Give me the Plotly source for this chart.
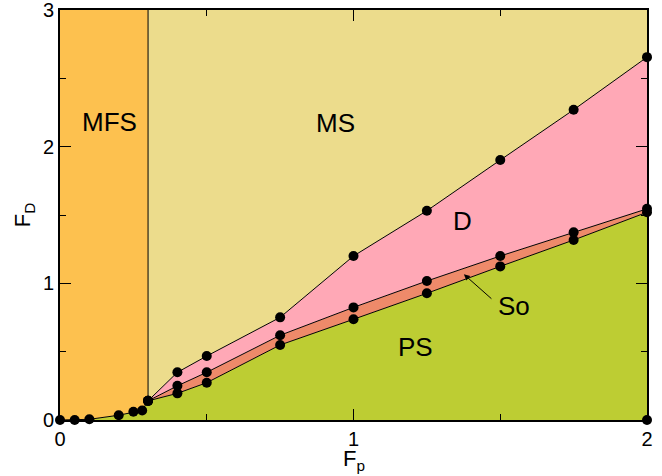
import plotly.graph_objects as go

# phase boundaries
low_x = [0, 0.05, 0.1, 0.2, 0.25, 0.28, 0.3]
low_y = [0, 0, 0.005, 0.035, 0.06, 0.07, 0.14]

fp = [0.3, 0.4, 0.5, 0.75, 1.0, 1.25, 1.5, 1.75, 2.0]
ps_top = [0.14, 0.195, 0.273, 0.549, 0.737, 0.927, 1.124, 1.317, 1.52]
so_top = [0.14, 0.25, 0.349, 0.62, 0.824, 1.017, 1.2, 1.373, 1.545]
d_top = [0.14, 0.349, 0.468, 0.751, 1.2, 1.531, 1.902, 2.27, 2.655]

x_max, y_max = 2.0, 3.0
mfs_edge = 0.3

labels = ["MFS", "MS", "D", "PS", "So"]
label_x = [0.17, 0.937, 1.373, 1.21, 1.547]
label_y = [2.18, 2.17, 1.456, 0.534, 0.834]

COLORS = {
    "MFS": "#FDC14F",
    "MS": "#ECDC8C",
    "D": "#FFA8B6",
    "So": "#EE8A6A",
    "PS": "#BDCD33",
}

fig = go.Figure()

# filled regions
fig.add_trace(go.Scatter(
    x=low_x + fp + [x_max, 0],
    y=low_y + ps_top + [0, 0],
    fill="toself", fillcolor=COLORS["PS"], mode="none",
))
fig.add_trace(go.Scatter(
    x=fp + fp[::-1],
    y=ps_top + so_top[::-1],
    fill="toself", fillcolor=COLORS["So"], mode="none",
))
fig.add_trace(go.Scatter(
    x=fp + fp[::-1],
    y=so_top + d_top[::-1],
    fill="toself", fillcolor=COLORS["D"], mode="none",
))
fig.add_trace(go.Scatter(
    x=fp + [x_max, mfs_edge],
    y=d_top + [y_max, y_max],
    fill="toself", fillcolor=COLORS["MS"], mode="none",
))
fig.add_trace(go.Scatter(
    x=low_x + [mfs_edge, 0],
    y=low_y + [y_max, y_max],
    fill="toself", fillcolor=COLORS["MFS"], mode="none",
))

# boundary lines with data points
line_style = dict(color="black", width=1)
marker_style = dict(color="black", size=10)
fig.add_trace(go.Scatter(x=[mfs_edge, mfs_edge], y=[low_y[-1], y_max],
                         mode="lines", line=line_style))
for ys in [d_top, so_top]:
    fig.add_trace(go.Scatter(x=fp, y=ys, mode="lines+markers",
                             line=line_style, marker=marker_style,
                             cliponaxis=False))
fig.add_trace(go.Scatter(x=low_x + fp[1:], y=low_y + ps_top[1:],
                         mode="lines+markers", line=line_style,
                         marker=marker_style, cliponaxis=False))
fig.add_trace(go.Scatter(x=[x_max], y=[0], mode="markers",
                         marker=marker_style, cliponaxis=False))

# region labels
for name, lx, ly in zip(labels, label_x, label_y):
    fig.add_annotation(x=lx, y=ly, text=name, showarrow=False,
                       font=dict(size=26, color="black"))

# arrow pointing into the thin So band
fig.add_annotation(x=1.376, y=1.066, ax=1.475, ay=0.878,
                   xref="x", yref="y", axref="x", ayref="y",
                   text="", showarrow=True, arrowhead=2, arrowsize=1.2,
                   arrowwidth=1, arrowcolor="black")

# x axis title, placed a little tighter than the default title
fig.add_annotation(x=0.5, y=0, xref="paper", yref="paper",
                   yanchor="top", yshift=-24, showarrow=False,
                   text="F<sub>p</sub>", font=dict(size=22, color="black"))

axis_common = dict(
    showgrid=False, zeroline=False, automargin=False,
    ticklabeloverflow="allow",
    showline=True, linecolor="black", linewidth=2, mirror="ticks",
    ticks="inside", ticklen=11, tickwidth=1, tickcolor="black",
    tickfont=dict(size=20, color="black"),
    minor=dict(ticks="inside", ticklen=6, tickwidth=1, tickcolor="black",
               dtick=0.5, showgrid=False),
)

fig.update_layout(
    width=662, height=476,
    margin=dict(l=60, r=15, t=10, b=56),
    plot_bgcolor="white", paper_bgcolor="white",
    font=dict(family="Arial, Liberation Sans, sans-serif", color="black"),
    showlegend=False,
    xaxis=dict(range=[0, x_max], dtick=1, **axis_common),
    yaxis=dict(range=[0, y_max], dtick=1,
               title=dict(text="F<sub>D</sub>", font=dict(size=22), standoff=6),
               **axis_common),
)

fig.write_html("out.html", config={"displayModeBar": False},
               post_script="document.body.style.margin='0';")
